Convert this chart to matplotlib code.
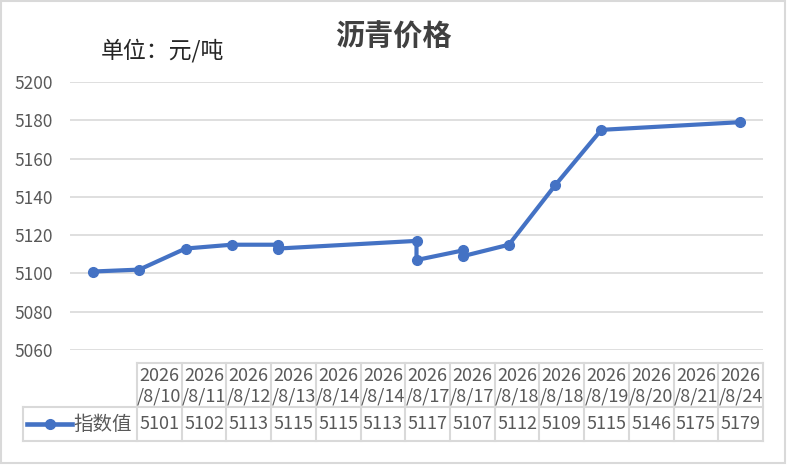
import pandas as pd
import matplotlib.pyplot as plt
from matplotlib.patches import Rectangle

plt.rcParams['font.family'] = ['Noto Sans CJK SC', 'DejaVu Sans']

# data
dates = ['2026/8/10', '2026/8/11', '2026/8/12', '2026/8/13', '2026/8/14', '2026/8/14',
         '2026/8/17', '2026/8/17', '2026/8/18', '2026/8/18', '2026/8/19', '2026/8/20',
         '2026/8/21', '2026/8/24']
values = [5101, 5102, 5113, 5115, 5115, 5113, 5117, 5107, 5112, 5109, 5115, 5146, 5175, 5179]
series_name = '指数值'
title = '沥青价格'
unit = '单位：元/吨'

blue = '#4472C4'
grey = '#d9d9d9'
txt = '#595959'

W, H = 787, 465
fig = plt.figure(figsize=(W/100, H/100), dpi=100)

x = pd.to_datetime(dates, format='%Y/%m/%d')

ax = fig.add_axes([70/W, 1-350/H, (763-70)/W, (350-82)/H])
ax.plot(x, values, color=blue, lw=3, marker='o', ms=7, solid_joinstyle='round')
ax.set_ylim(5060, 5200)
ax.set_yticks(range(5060, 5201, 20))
ax.set_xlim(x[0]-pd.Timedelta(hours=12), x[-1]+pd.Timedelta(hours=12))
ax.set_xticks([])
ax.grid(axis='y', color=grey, lw=1.2)
ax.set_axisbelow(True)
for s in ax.spines.values():
    s.set_visible(False)
ax.tick_params(axis='y', length=0, pad=12, labelsize=12.5, labelcolor=txt)

# overlay in pixel units for border, titles and data table
ov = fig.add_axes([0, 0, 1, 1], facecolor='none')
ov.set_xlim(0, W)
ov.set_ylim(H, 0)
ov.axis('off')
ov.add_patch(Rectangle((1, 1), W-3, H-3, fill=False, ec=grey, lw=1.5))

ov.text(393, 37, title, ha='center', va='center', fontsize=21, fontweight='bold', color='#404040')
ov.text(101, 51, unit, ha='left', va='center', fontsize=16.5, color='#262626')

left, right = 137, 763
top, mid, bot = 363, 407, 441
leg_left = 23
n = len(dates)
cw = (right-left)/n

ov.plot([left, right], [top, top], color=grey, lw=1.5)
ov.plot([leg_left, right], [mid, mid], color=grey, lw=1.5)
ov.plot([leg_left, right], [bot, bot], color=grey, lw=1.5)
ov.plot([leg_left, leg_left], [mid, bot], color=grey, lw=1.5)
for i in range(n+1):
    ov.plot([left+i*cw]*2, [top, bot], color=grey, lw=1.5)

for i, (d, v) in enumerate(zip(dates, values)):
    cx = left + (i+0.5)*cw
    yr, rest = d.split('/', 1)
    ov.text(cx, (top+mid)/2+1, yr + '\n/' + rest, ha='center', va='center',
            fontsize=13, color=txt, linespacing=1.2)
    ov.text(cx, (mid+bot)/2, str(v), ha='center', va='center', fontsize=13, color=txt)

ov.plot([27, 72], [424, 424], color=blue, lw=3.3)
ov.plot([50], [424], 'o', color=blue, ms=7)
ov.text(73, 424, series_name, ha='left', va='center', fontsize=14, color=txt)

fig.savefig('out.png', dpi=100)
